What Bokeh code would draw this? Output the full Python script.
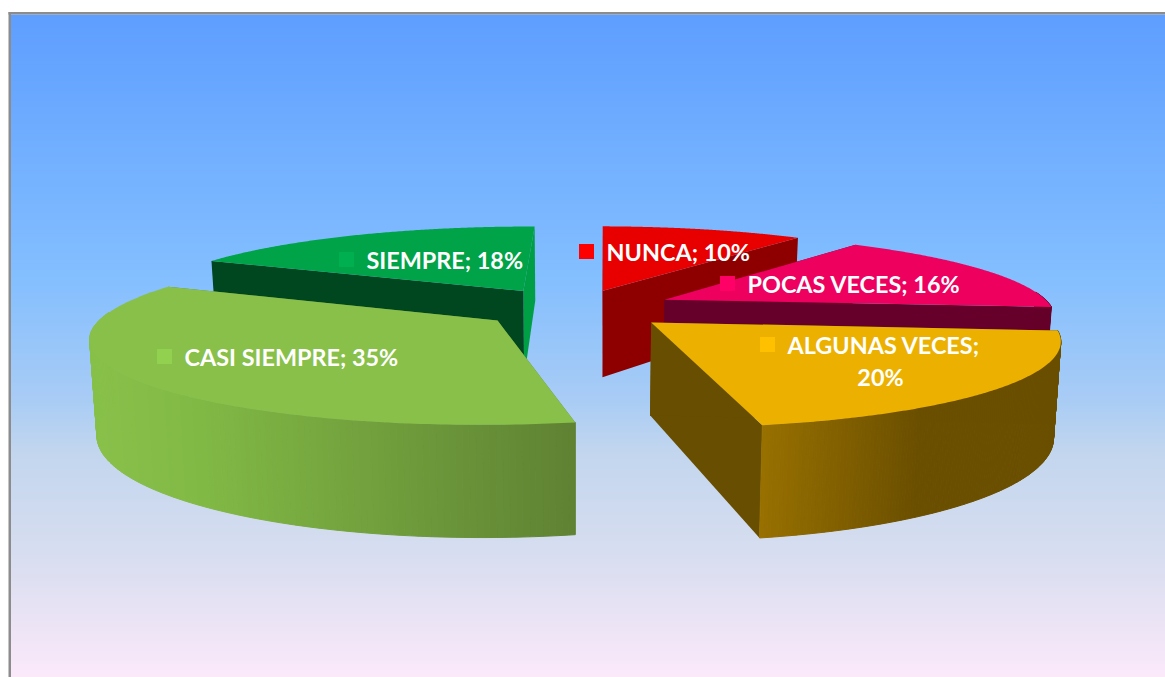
import math
from bokeh.plotting import figure
from bokeh.embed import file_html
from bokeh.resources import INLINE
from bokeh.core.properties import value

# ---- data ----
categories = ["NUNCA", "POCAS VECES", "ALGUNAS VECES", "CASI SIEMPRE", "SIEMPRE"]
percents = [10, 16, 20, 35, 18]

# ---- styles ----
top_colors = ["#E80000", "#EE005F", "#ECB100", "#88C04A", "#00A347"]
key_colors = ["#FF0000", "#FF0066", "#FFC000", "#92D050", "#00B050"]
cut_start_colors = ["#A00000", "#66002A", "#684E00", "#5F8438", "#004720"]
cut_end_colors = ["#8E0000", "#66002A", "#684E00", "#5F8438", "#009E45"]
wall_ramps = {
    2: [(763, "#977000"), (920, "#6B4F00"), (1060, "#6B4F00")],
    3: [(95, "#88C04A"), (200, "#81B945"), (575, "#5F8233")],
}
grad_stops = [(0.0, "#5E9EFF"), (0.39, "#83BEFF"), (0.58, "#A8CCF5"),
              (0.66, "#C2D6EE"), (0.826, "#D9DEF0"), (1.0, "#FBE9FA")]

# ---- projection of the pie ----
CX, CY, R, K, P, H = 574.0, 307.5, 388.0, 0.209, 0.175, 90.0
ROT = math.radians(0.7)
BOUNDARY_NUDGE = [0, 0, 0, math.radians(0.8), 0]
EXPLODE = [0.235, 0.258, 0.258, 0.245, 0.258]
SHRINK = 0.985
draw_order = [0, 4, 1, 3, 2]
label_anchor = {0: (586, 251), 1: (727, 283), 2: (767, 344), 3: (164, 356), 4: (346, 259)}
FONT = "Lato"
FS = "23.4px"


def hex2rgb(h):
    return tuple(int(h[i:i + 2], 16) for i in (1, 3, 5))


def mix(a, b, t):
    ca, cb = hex2rgb(a), hex2rgb(b)
    return "#%02X%02X%02X" % tuple(round(ca[i] + (cb[i] - ca[i]) * t) for i in range(3))


def ramp(stops, v):
    if v <= stops[0][0]:
        return stops[0][1]
    for (a, ca), (b, cb) in zip(stops, stops[1:]):
        if v <= b:
            return mix(ca, cb, (v - a) / (b - a))
    return stops[-1][1]


def top(x, y):
    s = 1 / (1 - P * y)
    return CX + R * x * s, CY + R * K * y * s


def bot(x, y):
    s = 1 / (1 - P * y)
    X, Y = top(x, y)
    return CX + (X - CX) * SHRINK, Y + H * s


p = figure(width=1165, height=677, x_range=(0, 1165), y_range=(677, 0),
           toolbar_location=None, output_backend="svg", min_border=0,
           outline_line_color=None, background_fill_color="white", border_fill_color="white")
p.axis.visible = False
p.grid.visible = False

FT, FB, FL, FR = 14, 677, 10, 1165
n = 200
for i in range(n):
    y0 = FT + (FB - FT) * i / n
    c = ramp(grad_stops, (i + 0.5) / n)
    p.quad(left=FL, right=FR, top=y0, bottom=FB, fill_color=c, line_color=None)
p.quad(left=8, right=10.5, top=11.5, bottom=677, fill_color="#8C8C8C", line_color=None)
p.quad(left=8, right=1165, top=11.5, bottom=14, fill_color="#8C8C8C", line_color=None)

total = sum(percents)
starts = []
acc = 0
for k, v in enumerate(percents):
    starts.append(acc / total * 2 * math.pi + ROT + BOUNDARY_NUDGE[k])
    acc += v
ends = starts[1:] + [2 * math.pi + ROT]


def rim(ax, ay, t):
    return ax + math.sin(t), ay - math.cos(t)


for i in draw_order:
    a0, a1 = starts[i], ends[i]
    mid = (a0 + a1) / 2
    ax, ay = EXPLODE[i] * math.sin(mid), -EXPLODE[i] * math.cos(mid)
    m = 160
    ts = [a0 + (a1 - a0) * j / m for j in range(m + 1)]
    pts = [rim(ax, ay, t) for t in ts]
    # radial cut faces
    for q, col in ((pts[-1], cut_end_colors[i]), (pts[0], cut_start_colors[i])):
        t_a, t_r = top(ax, ay), top(*q)
        b_a, b_r = bot(ax, ay), bot(*q)
        p.patch([t_a[0], t_r[0], b_r[0], b_a[0]], [t_a[1], t_r[1], b_r[1], b_a[1]],
                fill_color=col, line_color=None)
    # outer wall, only where it faces the viewer
    for j in range(m):
        t = (ts[j] + ts[j + 1]) / 2
        if math.cos(t) > 0.1:
            continue
        q0, q1 = pts[j], pts[j + 1]
        t0, t1 = top(*q0), top(*q1)
        b0, b1 = bot(*q0), bot(*q1)
        c = ramp(wall_ramps[i], (t0[0] + t1[0]) / 2) if i in wall_ramps else cut_end_colors[i]
        p.patch([t0[0], t1[0], b1[0], b0[0]], [t0[1], t1[1], b1[1], b0[1]],
                fill_color=c, line_color=c, line_width=1)
    # top face
    xy = [top(ax, ay)] + [top(*q) for q in pts]
    p.patch([c[0] for c in xy], [c[1] for c in xy], fill_color=top_colors[i], line_color=None)

for i in range(len(categories)):
    kx, ky = label_anchor[i]
    p.quad(left=kx - 7.5, right=kx + 7.5, top=ky - 7.5, bottom=ky + 7.5,
           fill_color=key_colors[i], line_color=None)
    tx = kx + 20
    kw = dict(text_color="white", text_font=value(FONT), text_font_style="bold",
              text_font_size=FS, text_baseline="middle")
    if i == 2:
        p.text([tx], [ky], text=[f"{categories[i]};"], text_align="left", **kw)
        p.text([tx + 93], [ky + 32], text=[f"{percents[i]}%"], text_align="center", **kw)
    else:
        p.text([tx], [ky], text=[f"{categories[i]}; {percents[i]}%"], text_align="left", **kw)

open("out.html", "w").write(file_html(p, INLINE))
